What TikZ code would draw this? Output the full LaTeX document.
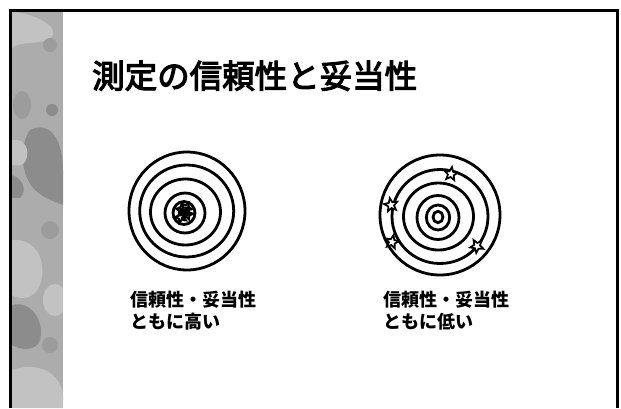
\documentclass[tikz,border=0pt]{standalone}
\usepackage{fontspec}
\newfontfamily\jp{Noto Sans CJK JP}
\newfontfamily\jpt{Noto Sans CJK JP}[FakeBold=3.5]
\usetikzlibrary{shapes.geometric}
\definecolor{stripbase}{RGB}{172,172,172}
\definecolor{stripdark}{RGB}{140,140,140}
\definecolor{stripmid}{RGB}{156,156,156}
\definecolor{striplight}{RGB}{194,194,194}
\begin{document}
\begin{tikzpicture}[x=1pt,y=-1pt,
  ring/.style={draw=black,line width=2.8pt},
  hit/.style={star,star points=5,star point ratio=2.3,draw=black,line width=1.7pt,minimum size=14pt,inner sep=0pt,fill=white},
  hitin/.style={star,star points=5,star point ratio=2.2,draw=black,line width=2pt,minimum size=12pt,inner sep=0pt},
  lbl/.style={anchor=base west,inner sep=0pt,font=\jp\bfseries\fontsize{18}{21.5}\selectfont},
  ttl/.style={anchor=base west,inner sep=0pt,font=\jpt\fontsize{32.5}{36}\selectfont}]
\useasboundingbox (0,0) rectangle (621,408);
\fill[white] (0,0) rectangle (621,408);
% left textured strip
\begin{scope}
  \clip (12,12) rectangle (63,408);
  \fill[stripbase] (12,12) rectangle (63,408);
  \fill[striplight] (12,12) .. controls (40,14) and (62,30) .. (50,38) .. controls (40,46) and (20,40) .. (12,48) -- cycle;
  \fill[stripmid] (50,45) circle [radius=7];
  \fill[stripdark] (52,110) circle [radius=6];
  \fill[stripmid] (22,105) ellipse [x radius=9, y radius=14];
  \fill[stripdark] (30,130) .. controls (50,120) and (63,140) .. (63,170) -- (63,205) .. controls (50,200) and (35,195) .. (28,180) .. controls (20,165) and (22,140) .. cycle;
  \fill[striplight] (12,140) .. controls (25,138) and (30,150) .. (26,160) .. controls (22,168) and (15,165) .. (12,165) -- cycle;
  \fill[stripdark] (12,175) .. controls (22,178) and (28,190) .. (20,198) -- (12,198) -- cycle;
  \fill[stripmid] (50,230) circle [radius=9];
  \fill[striplight] (12,240) .. controls (35,238) and (48,260) .. (40,285) .. controls (34,300) and (20,300) .. (12,295) -- cycle;
  \fill[striplight] (55,300) ellipse [x radius=12, y radius=16];
  \fill[stripdark] (12,305) .. controls (30,300) and (45,320) .. (40,340) .. controls (36,352) and (20,350) .. (12,345) -- cycle;
  \fill[stripmid] (50,345) circle [radius=8];
  \fill[striplight] (12,370) .. controls (35,362) and (60,370) .. (63,395) -- (63,408) -- (12,408) -- cycle;
\end{scope}
% frame
\draw[line width=3pt] (10.5,408) -- (10.5,10.5) -- (617,10.5) -- (617,408);
% title
\node[ttl] (title) at (92,88) {測定の信頼性と妥当性};
% left target
\draw[ring] (187,211) ellipse [x radius=58, y radius=59];
\draw[ring] (186.7,211) ellipse [x radius=47, y radius=46];
\draw[ring] (185.5,212) ellipse [x radius=35, y radius=33];
\draw[ring] (185,213) circle [radius=20];
\node[hitin,rotate=5] (a1) at (182,210) {};
\node[hitin,rotate=-15] (a2) at (187,214) {};
\node[hitin,rotate=20] (a3) at (181,217) {};
\node[hitin,rotate=-30] (a4) at (186,208) {};
\node[hitin,rotate=40] (a5) at (184,213) {};
\draw[ring] (184,213) ellipse [x radius=11, y radius=11.5];
% right target
\draw[ring] (440,215) circle [radius=60];
\draw[ring] (440,216.5) ellipse [x radius=48, y radius=47];
\draw[ring] (438.5,216.5) ellipse [x radius=35, y radius=33.5];
\draw[ring] (438,217.5) ellipse [x radius=21, y radius=22];
\draw[ring] (438,217.5) ellipse [x radius=11.7, y radius=12.5];
\draw[ring] (438,217) ellipse [x radius=5, y radius=5.7];
\node[hit,rotate=-8] (s1) at (451,174) {};
\node[hit,rotate=10] (s2) at (391,205) {};
\node[hit,rotate=-12] (s3) at (392,242) {};
\node[hit,rotate=30] (s4) at (477,246) {};
% labels
\node[lbl] (l1) at (130,306) {信頼性・妥当性};
\node[lbl] (l2) at (130,328) {ともに高い};
\node[lbl] (r1) at (383,306) {信頼性・妥当性};
\node[lbl] (r2) at (383,328) {ともに低い};
\end{tikzpicture}
\end{document}
